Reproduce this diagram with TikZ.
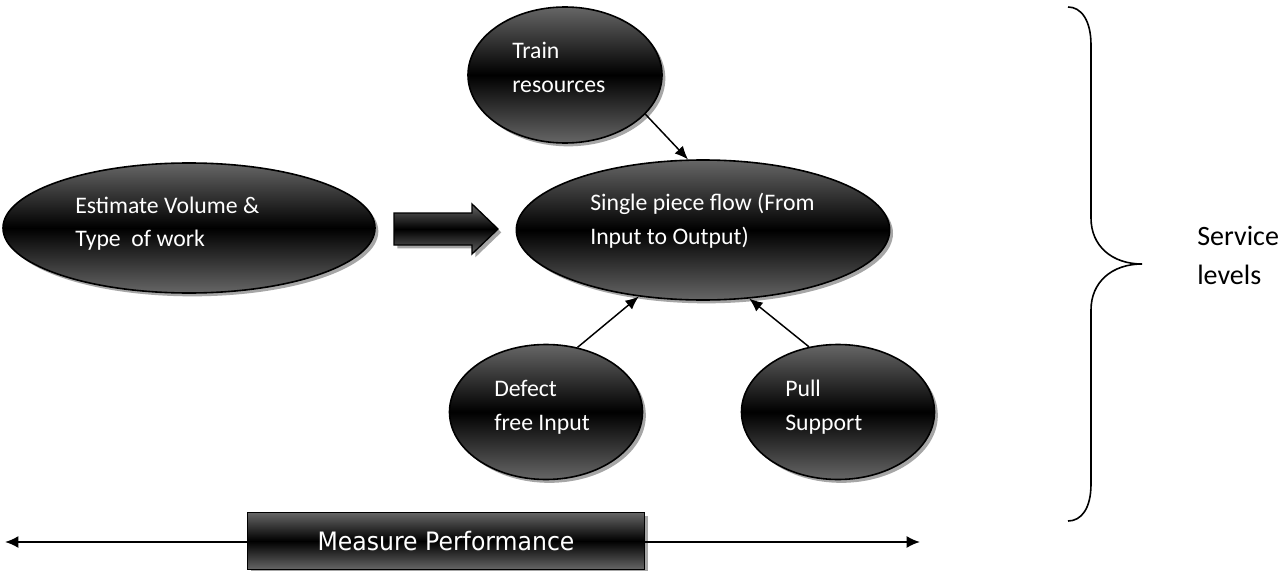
\documentclass[tikz,border=0pt]{standalone}
\usepackage{fontspec}
\setmainfont{Carlito}
\newfontfamily\verd[FakeStretch=0.93]{DejaVu Sans}
\usetikzlibrary{shapes.geometric,shadows,arrows.meta}
\begin{document}
\begin{tikzpicture}[x=0.75pt,y=-0.75pt,
  shadedfill/.style={top color=black!60, bottom color=black!60, middle color=black},
  myshadow/.style={drop shadow={shadow xshift=2.5pt, shadow yshift=-2.5pt, fill=black!35, opacity=1}},
  blob/.style={ellipse, draw=black, line width=1.2pt, inner sep=0pt, shadedfill, myshadow},
  txt/.style={text=white, anchor=base west, inner sep=0pt, font=\fontsize{17.8pt}{20pt}\selectfont},
  conn/.style={line width=1.1pt, -{Latex[length=10pt,width=8.5pt]}},
  ]
\useasboundingbox[fill=white] (0,0) rectangle (1283,571);

% ellipses
\node[blob, minimum width=279pt, minimum height=97.5pt] (est) at (189,228) {};
\node[blob, minimum width=145.5pt, minimum height=102pt] (train) at (565,75) {};
\node[blob, minimum width=280pt, minimum height=105pt] (single) at (703,230) {};
\node[blob, minimum width=144.75pt, minimum height=101.25pt] (defect) at (546,412) {};
\node[blob, minimum width=144.75pt, minimum height=101.25pt] (pull) at (838,412) {};

% block arrow
\shade[draw=black, line width=1pt, shadedfill, myshadow]
  (394,213) -- (472,213) -- (472,204) -- (498,229) -- (472,254) -- (472,245) -- (394,245) -- cycle;

% connectors
\draw[conn] (train.-26) -- (single.102);
\draw[conn] (defect.64) -- (single.-134.6);
\draw[conn] (pull.114) -- (single.-56);

% texts
\node[txt] (e1) at (75,213) {Estimate Volume \&};
\node[txt] (e2) at (75,246) {Type\ \ of work};
\node[txt] (tr1) at (512,58) {Train};
\node[txt] (tr2) at (512,92) {resources};
\node[txt] (s1) at (590,210) {Single piece flow (From};
\node[txt] (s2) at (590,244) {Input to Output)};
\node[txt] (d1) at (494,396) {Defect};
\node[txt] (d2) at (494,430) {free Input};
\node[txt] (p1) at (785,396) {Pull};
\node[txt] (p2) at (785,430) {Support};

% measure performance
\coordinate (mL) at (5,542);
\coordinate (mR) at (920,542);
\node[draw=black, line width=1.2pt, shadedfill, myshadow, minimum width=297.75pt, minimum height=42.75pt, inner sep=0pt,
      text=white, font=\verd\fontsize{19pt}{22pt}\selectfont] (measure) at (446,541) {Measure Performance};
\draw[line width=1.5pt, -{Latex[length=10pt,width=9pt]}] (measure.west |- mL) -- (mL);
\draw[line width=1.5pt, -{Latex[length=10pt,width=9pt]}] (measure.east |- mR) -- (mR);

% brace
\draw[line width=1.2pt] (1068,7) .. controls (1081,7) and (1091,20) .. (1091,45)
  -- (1091,218) .. controls (1091,246) and (1112,264) .. (1142,264)
  .. controls (1112,264) and (1091,282) .. (1091,310)
  -- (1091,484) .. controls (1091,509) and (1081,521) .. (1068,521);
\node[anchor=base west, inner sep=0pt, font=\fontsize{21pt}{24pt}\selectfont] (sv1) at (1197,245) {Service};
\node[anchor=base west, inner sep=0pt, font=\fontsize{21pt}{24pt}\selectfont] (sv2) at (1197,284) {levels};
\end{tikzpicture}
\end{document}
